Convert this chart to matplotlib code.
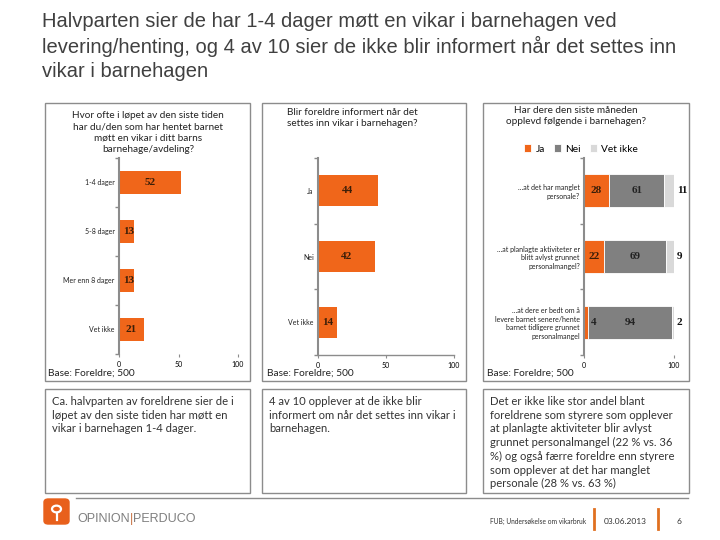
import matplotlib.pyplot as plt
from matplotlib.patches import Rectangle, FancyBboxPatch, Circle

# data
q1_labels = ["1-4 dager", "5-8 dager", "Mer enn 8 dager", "Vet ikke"]
q1_values = [52, 13, 13, 21]

q2_labels = ["Ja", "Nei", "Vet ikke"]
q2_values = [44, 42, 14]

q3_labels = ["…at det har manglet\npersonale?",
             "…at planlagte aktiviteter er\nblitt avlyst grunnet\npersonalmangel?",
             "…at dere er bedt om å\nlevere barnet senere/hente\nbarnet tidligere grunnet\npersonalmangel"]
q3_series = ["Ja", "Nei", "Vet ikke"]
q3_ja = [28, 22, 4]
q3_nei = [61, 69, 94]
q3_vetikke = [11, 9, 2]

W, H = 720, 540
ORANGE = "#F0661A"
GRAY_TXT = "#404040"
AXIS = "#8c8c8c"
LBL = "#3b1e08"
BODY = "Lato"

fig = plt.figure(figsize=(7.2, 5.4), dpi=100)


def rect(x0, y0, x1, y1):
    return [x0 / W, 1 - y1 / H, (x1 - x0) / W, (y1 - y0) / H]


def ftext(x, y, s, **kw):
    fig.text(x / W, 1 - y / H, s, **kw)


def box(x0, y0, x1, y1, color="#8c8c8c"):
    fig.patches.append(Rectangle((x0 / W, 1 - y1 / H), (x1 - x0) / W, (y1 - y0) / H,
                                 transform=fig.transFigure, fill=False,
                                 edgecolor=color, lw=1.0))


def style_axes(ax, labels, ticks, bottom_line=False):
    n = len(labels)
    ax.set_xlim(0, 100)
    ax.set_ylim(n - 0.5, -0.5)
    ax.set_yticks(range(n))
    ax.set_yticklabels(labels, fontsize=5, family=BODY, color="#222222")
    ax.set_yticks([i + 0.5 for i in range(-1, n)], minor=True)
    ax.tick_params(axis="y", which="major", length=0, pad=3)
    ax.tick_params(axis="y", which="minor", length=3, color=AXIS, width=1)
    ax.set_xticks(ticks)
    ax.set_xticklabels([str(t) for t in ticks], fontsize=5, family=BODY)
    ax.tick_params(axis="x", length=2, color=AXIS, pad=3)
    for s in ["top", "right"]:
        ax.spines[s].set_visible(False)
    ax.spines["left"].set_color(AXIS)
    ax.spines["left"].set_linewidth(1.5)
    ax.spines["bottom"].set_visible(bottom_line)
    ax.spines["bottom"].set_color(AXIS)
    ax.spines["bottom"].set_linewidth(1.0)
    ax.patch.set_alpha(0)


# main title
ftext(42, 12, "Halvparten sier de har 1-4 dager møtt en vikar i barnehagen ved\n"
              "levering/henting, og 4 av 10 sier de ikke blir informert når det settes inn\n"
              "vikar i barnehagen",
      fontsize=14.5, family="Liberation Sans", color=GRAY_TXT, va="top", ha="left",
      linespacing=1.3)

# panel boxes
box(45, 103, 250, 381)
box(262, 103, 466, 381)
box(483, 103, 689, 381)

title_kw = dict(fontsize=7.2, family=BODY, ha="center", va="top", color="#222222", linespacing=1.33)
base_kw = dict(fontsize=7.3, family=BODY, va="center", color="#222222")

# panel 1
ax1 = fig.add_axes(rect(119, 158, 238, 354))
ax1.barh(range(len(q1_values)), q1_values, height=0.48, color=ORANGE)
for i, v in enumerate(q1_values):
    ax1.text(v / 2 if v > 15 else v / 2 + 2, i, str(v), ha="center", va="center",
             fontsize=8, fontweight="bold", family="Liberation Serif", color=LBL)
style_axes(ax1, q1_labels, [0, 50, 100])
ftext(148, 111, "Hvor ofte i løpet av den siste tiden\nhar du/den som har hentet barnet\n"
                "møtt en vikar i ditt barns\nbarnehage/avdeling?", **title_kw)
ftext(48, 373, "Base: Foreldre; 500", **base_kw)

# panel 2
ax2 = fig.add_axes(rect(318, 158, 454, 355))
ax2.barh(range(len(q2_values)), q2_values, height=0.47, color=ORANGE)
for i, v in enumerate(q2_values):
    ax2.text(v / 2, i, str(v), ha="center", va="center",
             fontsize=8, fontweight="bold", family="Liberation Serif", color=LBL)
style_axes(ax2, q2_labels, [0, 50, 100], bottom_line=True)
ftext(352, 108, "Blir foreldre informert når det\nsettes inn vikar i barnehagen?", **title_kw)
ftext(267, 373, "Base: Foreldre; 500", **base_kw)

# panel 3
ax3 = fig.add_axes(rect(584, 158, 674, 355))
pos = range(len(q3_ja))
left_nei = q3_ja
left_vet = [a + b for a, b in zip(q3_ja, q3_nei)]
b1 = ax3.barh(pos, q3_ja, height=0.5, color=ORANGE, edgecolor="white", lw=0.6, label=q3_series[0])
b2 = ax3.barh(pos, q3_nei, left=left_nei, height=0.5, color="#808080", edgecolor="white", lw=0.6,
              label=q3_series[1])
b3 = ax3.barh(pos, q3_vetikke, left=left_vet, height=0.5, color="#d9d9d9", edgecolor="white", lw=0.6,
              label=q3_series[2])
for i in pos:
    ja, nei, vet = q3_ja[i], q3_nei[i], q3_vetikke[i]
    if ja >= 8:
        ax3.text(ja / 2, i, str(ja), ha="center", va="center", fontsize=8,
                 fontweight="bold", family="Liberation Serif", color=LBL)
    else:
        ax3.text(ja + 7, i, str(ja), ha="center", va="center", fontsize=8,
                 fontweight="bold", family="Liberation Serif", color="#222222")
    ax3.text(ja + nei / 2, i, str(nei), ha="center", va="center", fontsize=8,
             fontweight="bold", family="Liberation Serif", color="#222222")
    ax3.text(103, i, str(vet), ha="left", va="center", fontsize=8,
             fontweight="bold", family="Liberation Serif", color="#111111", clip_on=False)
style_axes(ax3, q3_labels, [0, 100])
ax3.set_yticklabels(q3_labels, fontsize=5, family=BODY, color="#222222", linespacing=1.3)
fig.legend(handles=[b1, b2, b3], loc="center", bbox_to_anchor=(581 / W, 1 - 149 / H),
           ncol=3, frameon=False, prop={"family": BODY, "size": 7.3},
           handlelength=0.7, handleheight=0.7, handletextpad=0.4, columnspacing=0.9)
ftext(576, 106, "Har dere den siste måneden\nopplevd følgende i barnehagen?", **title_kw)
ftext(487, 373, "Base: Foreldre; 500", **base_kw)

# text boxes
box(45, 389, 250, 493)
box(262, 389, 466, 493)
box(483, 389, 689, 493)
txt_kw = dict(fontsize=8.1, family=BODY, va="top", ha="left", color="#333333", linespacing=1.3)
ftext(52, 396, "Ca. halvparten av foreldrene sier de i\nløpet av den siste tiden har møtt en\n"
               "vikar i barnehagen 1-4 dager.", **txt_kw)
ftext(269, 396, "4 av 10 opplever at de ikke blir\ninformert om når det settes inn vikar i\n"
                "barnehagen.", **txt_kw)
ftext(490, 396, "Det er ikke like stor andel blant\nforeldrene som styrere som opplever\n"
                "at planlagte aktiviteter blir avlyst\ngrunnet personalmangel (22 % vs. 36\n"
                "%) og også færre foreldre enn styrere\nsom opplever at det har manglet\n"
                "personale (28 % vs. 63 %)", **txt_kw)

# footer
fig.add_artist(plt.Line2D([76 / W, 688 / W], [1 - 498 / H, 1 - 498 / H],
                          color="#8c8c8c", lw=1.0))
fig.patches.append(FancyBboxPatch((44 / W, 1 - 524 / H), 25 / W, 25 / H,
                                  boxstyle="round,pad=0,rounding_size=0.006",
                                  transform=fig.transFigure, color="#e8601c"))
fig.patches.append(Circle((56.5 / W, 1 - 509 / H), 4.5 / W, transform=fig.transFigure,
                          fill=False, edgecolor="white", lw=1.6))
fig.add_artist(plt.Line2D([56.5 / W, 56.5 / W], [1 - 513 / H, 1 - 520 / H], color="white", lw=1.6))
ftext(77, 519, "OPINION", fontsize=9, family="Liberation Sans", color="#7f7f7f", va="center")
ftext(130, 519, "|", fontsize=9, family="Liberation Sans", color="#c87040", va="center")
ftext(133, 519, "PERDUCO", fontsize=9, family="Liberation Sans", color="#7f7f7f", va="center")
ftext(586, 521, "FUB; Undersøkelse om vikarbruk", fontsize=4.8, family=BODY,
      color="#333333", ha="right", va="center")
fig.add_artist(plt.Line2D([594 / W, 594 / W], [1 - 509 / H, 1 - 529 / H], color="#e07020", lw=2))
ftext(625, 521, "03.06.2013", fontsize=6, family=BODY, color="#333333", ha="center", va="center")
fig.add_artist(plt.Line2D([658 / W, 658 / W], [1 - 509 / H, 1 - 529 / H], color="#e07020", lw=2))
ftext(679, 521, "6", fontsize=6, family=BODY, color="#333333", ha="center", va="center")

fig.savefig("out.png", dpi=100)
